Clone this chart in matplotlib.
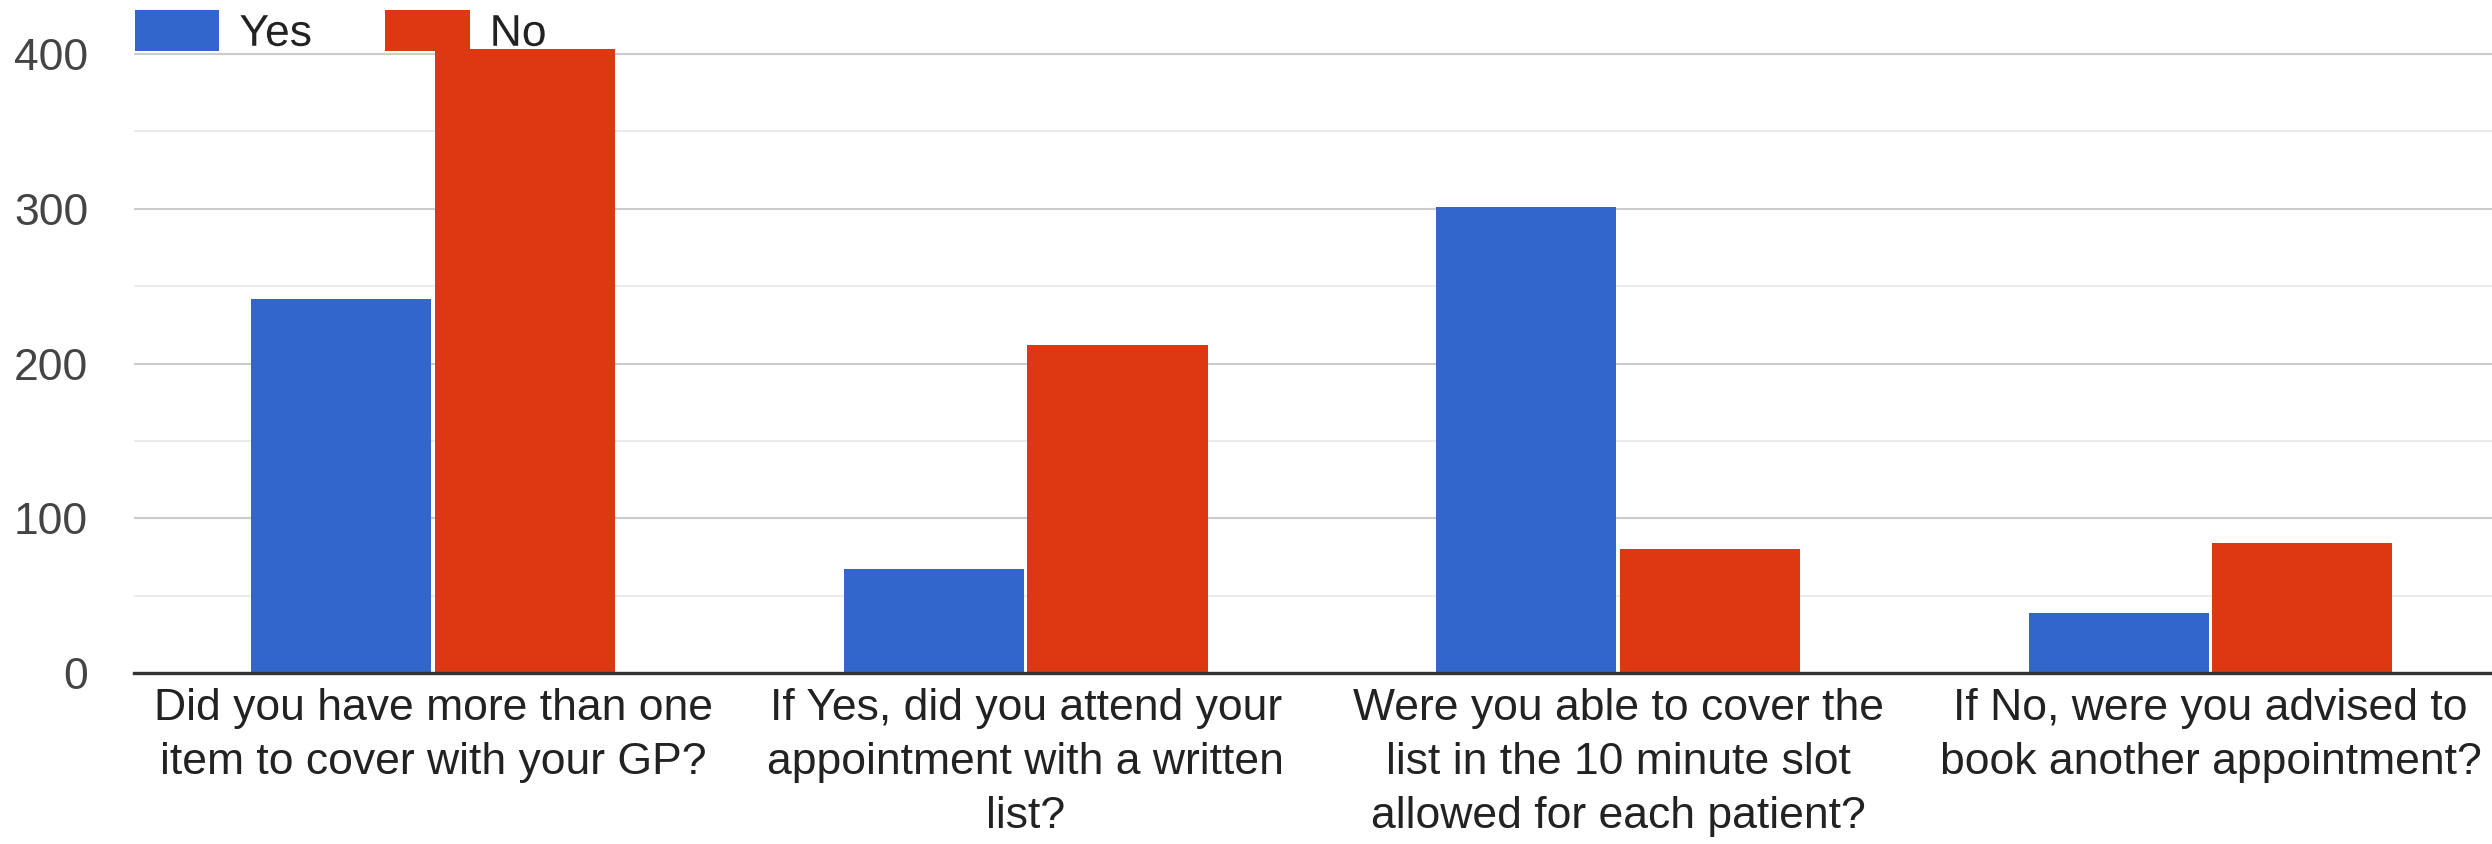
import numpy as np
from matplotlib import pyplot as plt
import matplotlib.patheffects as pe

# survey answers
questions = [
    "Did you have more than one\nitem to cover with your GP?",
    "If Yes, did you attend your\nappointment with a written\nlist?",
    "Were you able to cover the\nlist in the 10 minute slot\nallowed for each patient?",
    "If No, were you advised to\nbook another appointment?",
]
yes_counts = [242, 67, 301, 39]
no_counts = [403, 212, 80, 84]
y_ticks = [0, 100, 200, 300, 400]

BLUE = "#3366cc"
RED = "#dc3912"

plt.rcParams['font.family'] = ['Liberation Sans', 'DejaVu Sans']

W, H = 2492, 844
fig = plt.figure(figsize=(W / 100, H / 100), dpi=100)

# axes box in pixels: left 134, baseline 673, top at figure edge
ax = fig.add_axes([134 / W, (H - 673) / H, 1 - 134 / W, 673 / H])

x = np.arange(len(questions))
bw = 0.304
off = bw / 2 + 0.003
b_yes = ax.bar(x - off, yes_counts, bw, color=BLUE, label="Yes", zorder=3)
b_no = ax.bar(x + off, no_counts, bw, color=RED, label="No", zorder=3)

ax.set_xlim(-0.505, 3.475)
ax.set_ylim(0, 673 / 1.5475)

ax.set_yticks(y_ticks)
ax.set_yticks(np.arange(50, 450, 100), minor=True)
ax.tick_params(axis='y', which='both', length=0, pad=33, labelsize=32, labelcolor="#444444")
ax.set_xticks(x)
ax.set_xticklabels(questions, fontsize=32, color="#222222", linespacing=1.4)
ax.tick_params(axis='x', length=0, pad=11)

ax.grid(axis='y', which='major', color="#cccccc", linewidth=1.5, zorder=0)
ax.grid(axis='y', which='minor', color="#ebebeb", linewidth=1.5, zorder=0)
ax.axhline(0, color="#333333", linewidth=2.4, zorder=4, clip_on=False)

for s in ax.spines.values():
    s.set_visible(False)

leg = ax.legend(handles=[b_yes, b_no], loc='upper left', ncol=2,
                bbox_to_anchor=(135 / W, 1 - 10 / H), bbox_transform=fig.transFigure,
                frameon=False, fontsize=32, borderpad=0, borderaxespad=0,
                handlelength=1.9, handleheight=1.05, handletextpad=0.45,
                columnspacing=1.65)
leg.set_zorder(10)
for t in leg.get_texts():
    t.set_color("#222222")
    t.set_path_effects([pe.withStroke(linewidth=4, foreground="white")])

fig.savefig("out.png", dpi=100)
